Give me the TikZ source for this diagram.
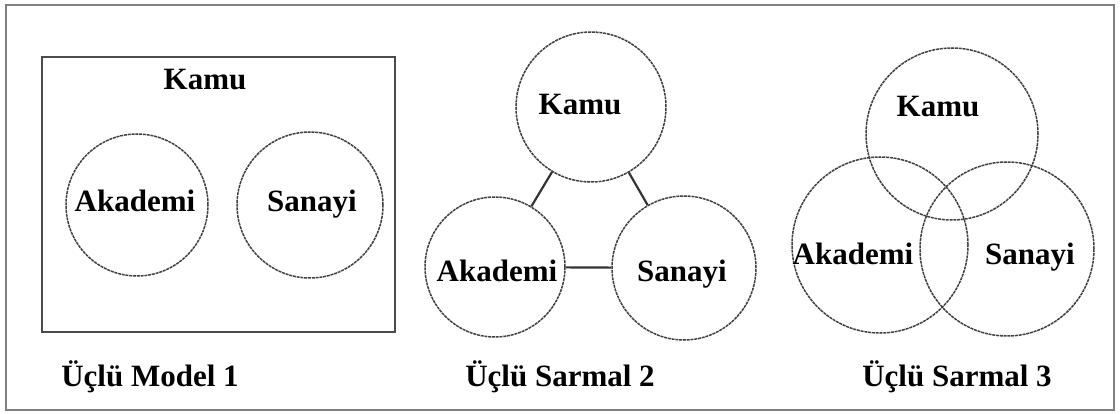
\documentclass[tikz,border=0pt]{standalone}
\usepackage{fontspec}
\setmainfont{Liberation Serif}
\begin{document}
\begin{tikzpicture}[x=1pt,y=-1pt,
  ring/.style={circle,draw=black!75,line width=1.5pt,dash pattern=on 3pt off 0.8pt,inner sep=0pt,minimum size=#1},
  lbl/.style={anchor=base,inner sep=0pt,font=\fontsize{31}{36}\selectfont\bfseries},
  link/.style={draw=black!80,line width=2.2pt}]
\useasboundingbox (0,0) rectangle (1120,414);
\node[draw=black!50,line width=2pt,minimum width=1108pt,minimum height=405pt,inner sep=0pt] (frame) at (560,207.5) {};
% Panel 1
\node[draw=black!70,line width=2pt,minimum width=353pt,minimum height=275pt,inner sep=0pt] (box1) at (218.5,194.5) {};
\node[ring=142pt] (A1) at (137,205) {};
\node[ring=146pt] (S1) at (310,205) {};
\node[lbl] (kamu1) at (205,90) {Kamu};
\node[lbl] (akademi1) at (135,212) {Akademi};
\node[lbl] (sanayi1) at (312,212) {Sanayi};
\node[lbl] (title1) at (150,386) {Üçlü Model 1};
% Panel 2
\node[ring=150pt] (K2) at (591,107) {};
\node[ring=140pt] (A2) at (495,267) {};
\node[ring=144pt] (S2) at (684,268) {};
\draw[link] (K2) -- (A2);
\draw[link] (K2) -- (S2);
\draw[link] (A2) -- (S2);
\node[lbl] (kamu2) at (580,115) {Kamu};
\node[lbl] (akademi2) at (497,282) {Akademi};
\node[lbl] (sanayi2) at (682,282) {Sanayi};
\node[lbl] (title2) at (560,386) {Üçlü Sarmal 2};
% Panel 3
\node[ring=172pt] (K3) at (952,134) {};
\node[ring=176pt] (A3) at (880,245) {};
\node[ring=174pt] (S3) at (1007,249) {};
\node[lbl] (kamu3) at (938,117) {Kamu};
\node[lbl] (akademi3) at (853,265) {Akademi};
\node[lbl] (sanayi3) at (1030,265) {Sanayi};
\node[lbl] (title3) at (957,386) {Üçlü Sarmal 3};
\end{tikzpicture}
\end{document}
